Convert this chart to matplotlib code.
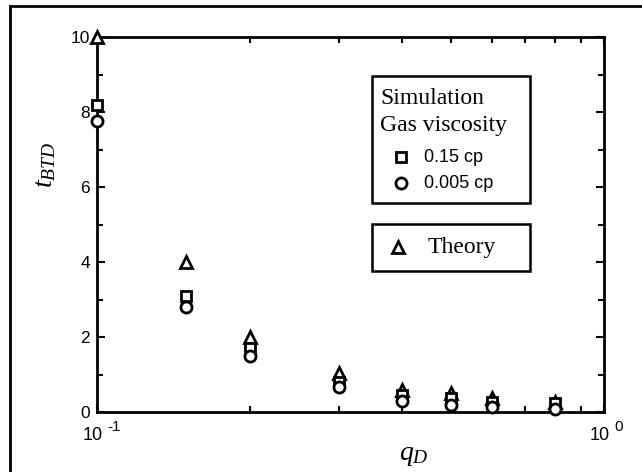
import matplotlib
matplotlib.use("Agg")
import matplotlib.pyplot as plt
import matplotlib.patches as mpatches
from matplotlib.lines import Line2D
from matplotlib.transforms import offset_copy
from matplotlib.ticker import FixedLocator, NullFormatter

plt.rcParams.update({
    'font.family': 'Liberation Sans',
    'mathtext.fontset': 'custom',
    'mathtext.rm': 'Liberation Sans',
    'mathtext.it': 'Liberation Serif:italic',
})

# dimensionless rate vs dimensionless breakthrough time
q_d = [0.1, 0.15, 0.2, 0.3, 0.4, 0.5, 0.6, 0.8]
t_sim_015 = [8.2, 3.1, 1.7, 0.8, 0.45, 0.37, 0.27, 0.24]
t_sim_0005 = [7.75, 2.8, 1.5, 0.67, 0.3, 0.2, 0.14, 0.08]
t_theory = [10.0, 4.0, 2.0, 1.05, 0.6, 0.5, 0.37, 0.27]

x_major = [0.1, 1.0]
x_major_exp = ['-1', '0']
x_minor = [0.2, 0.3, 0.4, 0.5, 0.6, 0.7, 0.8, 0.9]
y_major = [0, 2, 4, 6, 8, 10]
y_minor = [1, 3, 5, 7, 9]

fig = plt.figure(figsize=(6.42, 4.72), dpi=100)
ax = fig.add_axes([97 / 642, 1 - 412 / 472, 507 / 642, 375 / 472])

mk = dict(linestyle='none', markerfacecolor='white', markeredgecolor='black',
          markeredgewidth=2.0, clip_on=False, zorder=5)
ax.plot(q_d, t_theory, marker='^', markersize=8.5, **mk)
ax.plot(q_d, t_sim_015, marker='s', markersize=7.5, **mk)
ax.plot(q_d, t_sim_0005, marker='o', markersize=8, **mk)

ax.set_xscale('log')
ax.set_xlim(0.1, 1.0)
ax.set_ylim(0, 10)

ax.xaxis.set_major_locator(FixedLocator(x_major))
ax.xaxis.set_major_formatter(NullFormatter())
ax.xaxis.set_minor_locator(FixedLocator(x_minor))
ax.xaxis.set_minor_formatter(NullFormatter())
ax.yaxis.set_major_locator(FixedLocator(y_major))
ax.yaxis.set_minor_locator(FixedLocator(y_minor))

ax.tick_params(which='both', direction='in', top=True, right=True, width=1.5, colors='black')
ax.tick_params(which='major', length=6)
ax.tick_params(which='minor', length=4)
ax.tick_params(axis='y', labelsize=12.5, pad=5)
for s in ax.spines.values():
    s.set_linewidth(2)

# decade labels on the log axis: "10" with a raised exponent
xt = ax.get_xaxis_transform()
base_tr = offset_copy(xt, fig=fig, x=6, y=-15, units='dots')
exp_tr = offset_copy(xt, fig=fig, x=10, y=-8, units='dots')
for xv, ex in zip(x_major, x_major_exp):
    ax.text(xv, 0, '10', transform=base_tr, fontsize=13, ha='right', va='top')
    ax.text(xv, 0, ex, transform=exp_tr, fontsize=11, ha='left', va='top')

# axis labels
fig.text(45 / 642, 1 - 165 / 472, '$t_{BTD}$', fontsize=20, rotation=90,
         ha='center', va='center')
fig.text(414 / 642, 1 - 455 / 472, '$q_D$', fontsize=20, ha='center', va='center')

# legend boxes
def fx(px):
    return (px - 97) / 507

def fy(py):
    return (412 - py) / 375

for y0, y1 in [(203, 76), (271, 224)]:
    ax.add_patch(mpatches.Rectangle((fx(372), fy(y0)), fx(530) - fx(372), fy(y1) - fy(y0),
                                    transform=ax.transAxes, facecolor='white',
                                    edgecolor='black', linewidth=1.8, zorder=6))

serif = 'Liberation Serif'
ax.text(fx(380), fy(98), 'Simulation', transform=ax.transAxes, family=serif,
        fontsize=17, va='center', ha='left', zorder=7)
ax.text(fx(380), fy(126), 'Gas viscosity', transform=ax.transAxes, family=serif,
        fontsize=17, va='center', ha='left', zorder=7)
ax.plot([fx(401)], [fy(157)], marker='s', markersize=7.5, transform=ax.transAxes,
        **{**mk, 'zorder': 7})
ax.text(fx(424), fy(157), '0.15 cp', transform=ax.transAxes, fontsize=13,
        va='center', ha='left', zorder=7)
ax.plot([fx(401)], [fy(183)], marker='o', markersize=8, transform=ax.transAxes,
        **{**mk, 'zorder': 7})
ax.text(fx(424), fy(183), '0.005 cp', transform=ax.transAxes, fontsize=13,
        va='center', ha='left', zorder=7)
ax.plot([fx(398)], [fy(247)], marker='^', markersize=8.5, transform=ax.transAxes,
        **{**mk, 'zorder': 7})
ax.text(fx(428), fy(247), 'Theory', transform=ax.transAxes, family=serif,
        fontsize=17, va='center', ha='left', zorder=7)

# page frame lines
fig.add_artist(Line2D([10.5 / 642, 10.5 / 642], [0, 1 - 6 / 472], color='black',
                      linewidth=2, transform=fig.transFigure))
fig.add_artist(Line2D([10.5 / 642, 1], [1 - 6 / 472, 1 - 6 / 472], color='black',
                      linewidth=2, transform=fig.transFigure))

fig.savefig('out.png', dpi=100, facecolor='white')
